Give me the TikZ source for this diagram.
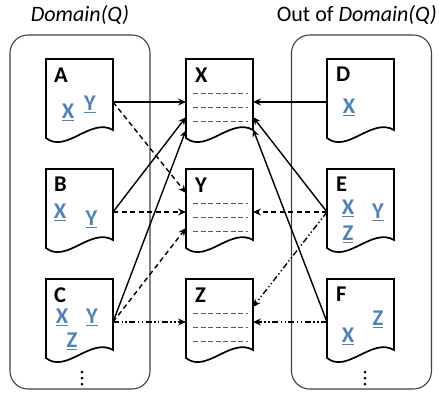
\documentclass[tikz,border=0pt]{standalone}
\usepackage{fontspec}
\setmainfont{Carlito}
\usetikzlibrary{arrows.meta,calc}
\definecolor{lblue}{RGB}{79,129,189}
\newcommand\myul[1]{\vtop{\hbox{#1}\kern2pt\hrule height 1.4pt}}
\begin{document}
\begin{tikzpicture}[x=1pt,y=-1pt,
  doc/.style={minimum width=67pt,minimum height=79pt,inner sep=0pt,outer sep=0pt},
  group/.style={draw=black!75,line width=1.1pt,rounded corners=18pt,minimum width=140pt,minimum height=354pt,inner sep=0pt},
  title/.style={font=\fontsize{22}{26}\selectfont,inner sep=0pt},
  lbl/.style={font=\fontsize{22.5}{26}\selectfont\bfseries,inner sep=0pt,anchor=base west},
  bl/.style={font=\fontsize{22.5}{26}\selectfont\bfseries,text=lblue,inner sep=0pt,anchor=base},
  docline/.style={line width=1.7pt,fill=white},
  rowline/.style={draw=black!65,line width=0.9pt,dash pattern=on 5pt off 2.5pt},
  arr/.style={line width=1.4pt,-{Stealth[length=8pt,width=7pt,inset=2.8pt]}},
  solidarr/.style={arr},
  dasharr/.style={arr,dash pattern=on 5pt off 3.5pt},
  ddarr/.style={arr,dash pattern=on 6pt off 2.5pt on 1.4pt off 2.5pt on 1.4pt off 2.5pt},
]
\useasboundingbox (0,0) rectangle (439,392);
% titles
\node[title] (TL) at (80,15) {\itshape Domain(Q)};
\node[title,anchor=east] (TR) at (437,15) {Out of \textit{Domain(Q)}};
% groups
\node[group] (GL) at (80,212) {};
\node[group] (GR) at (361.5,212) {};
% documents
\node[doc] (A) at (79.5,98.5) {};
\node[doc] (B) at (79.5,208.5) {};
\node[doc] (C) at (79.5,318.5) {};
\node[doc] (X) at (219.5,98.5) {};
\node[doc] (Y) at (219.5,208.5) {};
\node[doc] (Z) at (219.5,318.5) {};
\node[doc] (D) at (360.5,98.5) {};
\node[doc] (E) at (360.5,208.5) {};
\node[doc] (F) at (360.5,318.5) {};
\foreach \n in {A,B,C,D,E,F,X,Y,Z}
  \draw[docline] (\n.north west) -- (\n.south west)
    .. controls +(20,16) and +(-22,-13) .. ($(\n.south east)+(0,-8)$)
    -- (\n.north east) -- cycle;
\foreach \n in {X,Y,Z}
  \foreach \dy in {34,48,62}
    \draw[rowline] ($(\n.north west)+(7,\dy)$) -- ($(\n.north west)+(62,\dy)$);
% labels
\node[lbl] (Al) at ($(A.north west)+(8,23)$) {A};
\node[lbl] (Bl) at ($(B.north west)+(8,22)$) {B};
\node[lbl] (Cl) at ($(C.north west)+(8,23)$) {C};
\node[lbl] (Xl) at ($(X.north west)+(9,23)$) {X};
\node[lbl] (Yl) at ($(Y.north west)+(9,23)$) {Y};
\node[lbl] (Zl) at ($(Z.north west)+(9,23)$) {Z};
\node[lbl] (Dl) at ($(D.north west)+(9,22)$) {D};
\node[lbl] (El) at ($(E.north west)+(9,22)$) {E};
\node[lbl] (Fl) at ($(F.north west)+(9,22)$) {F};
% blue attribute letters
\node[bl] (AX) at ($(A.north west)+(22,59)$) {\myul{X}};
\node[bl] (AY) at ($(A.north west)+(44,51)$) {\myul{Y}};
\node[bl] (BX) at ($(B.north west)+(14,49)$) {\myul{X}};
\node[bl] (BY) at ($(B.north west)+(45.5,56)$) {\myul{Y}};
\node[bl] (CX) at ($(C.north west)+(16,44)$) {\myul{X}};
\node[bl] (CY) at ($(C.north west)+(46,44)$) {\myul{Y}};
\node[bl] (CZ) at ($(C.north west)+(26,68)$) {\myul{Z}};
\node[bl] (DX) at ($(D.north west)+(22,54)$) {\myul{X}};
\node[bl] (EX) at ($(E.north west)+(21,45)$) {\myul{X}};
\node[bl] (EY) at ($(E.north west)+(51,49)$) {\myul{Y}};
\node[bl] (EZ) at ($(E.north west)+(21,71)$) {\myul{Z}};
\node[bl] (FZ) at ($(F.north west)+(51,46)$) {\myul{Z}};
\node[bl] (FX) at ($(F.north west)+(21,63)$) {\myul{X}};
% arrows
\draw[solidarr] ($(A.north east)+(0,43)$) -- ($(X.north west)+(0,43)$);
\draw[dasharr]  ($(A.north east)+(0,43)$) -- ($(Y.north west)+(0,24)$);
\draw[solidarr] ($(B.north east)+(0,43)$) -- ($(X.north west)+(0,58)$);
\draw[dasharr]  ($(B.north east)+(0,43)$) -- ($(Y.north west)+(0,43)$);
\draw[solidarr] ($(C.north east)+(0,43)$) -- ($(X.north west)+(0,71)$);
\draw[dasharr]  ($(C.north east)+(0,43)$) -- ($(Y.north west)+(0,59)$);
\draw[ddarr]    ($(C.north east)+(0,43)$) -- ($(Z.north west)+(0,43)$);
\draw[solidarr] ($(D.north west)+(0,43)$) -- ($(X.north east)+(0,43)$);
\draw[solidarr] ($(E.north west)+(0,43)$) -- ($(X.north east)+(0,58)$);
\draw[dasharr]  ($(E.north west)+(0,43)$) -- ($(Y.north east)+(0,43)$);
\draw[ddarr]    ($(E.north west)+(0,43)$) -- ($(Z.north east)+(0,28)$);
\draw[solidarr] ($(F.north west)+(0,43)$) -- ($(X.north east)+(0,70)$);
\draw[ddarr]    ($(F.north west)+(0,43)$) -- ($(Z.north east)+(0,43)$);
% continuation dots
\foreach \yy in {372,378,384} {
  \fill (82,\yy) circle (1.5pt);
  \fill (365,\yy) circle (1.5pt);
}
\end{tikzpicture}
\end{document}
